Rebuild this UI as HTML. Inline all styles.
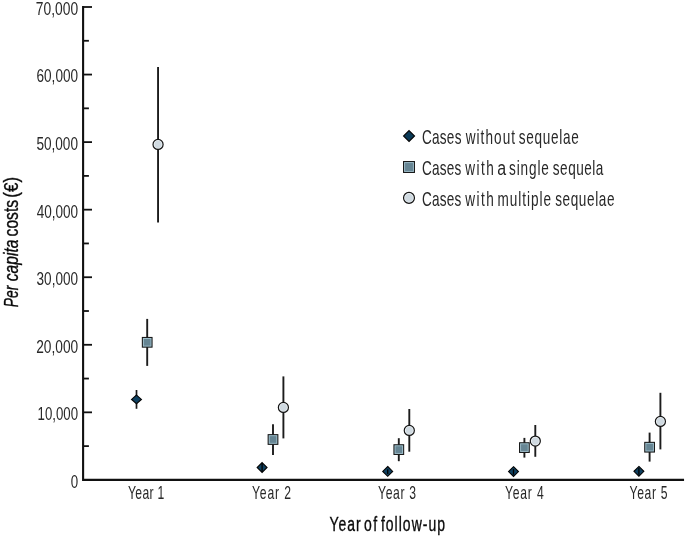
<!DOCTYPE html>
<html><head><meta charset="utf-8"><style>
html,body{margin:0;padding:0;background:#fff;width:685px;height:536px;overflow:hidden}
svg{display:block;will-change:transform;font-family:"Liberation Sans",sans-serif}
</style></head><body>
<svg width="685" height="536" viewBox="0 0 685 536">
<path d="M83.1 7V479.9H683" fill="none" stroke="#111" stroke-width="2.1" stroke-linecap="square"/>
<line x1="83" x2="92" y1="479.90" y2="479.90" stroke="#111" stroke-width="1.8"/>
<line x1="83" x2="88.9" y1="446.12" y2="446.12" stroke="#111" stroke-width="1.8"/>
<line x1="83" x2="92" y1="412.34" y2="412.34" stroke="#111" stroke-width="1.8"/>
<line x1="83" x2="88.9" y1="378.56" y2="378.56" stroke="#111" stroke-width="1.8"/>
<line x1="83" x2="92" y1="344.79" y2="344.79" stroke="#111" stroke-width="1.8"/>
<line x1="83" x2="88.9" y1="311.01" y2="311.01" stroke="#111" stroke-width="1.8"/>
<line x1="83" x2="92" y1="277.23" y2="277.23" stroke="#111" stroke-width="1.8"/>
<line x1="83" x2="88.9" y1="243.45" y2="243.45" stroke="#111" stroke-width="1.8"/>
<line x1="83" x2="92" y1="209.67" y2="209.67" stroke="#111" stroke-width="1.8"/>
<line x1="83" x2="88.9" y1="175.89" y2="175.89" stroke="#111" stroke-width="1.8"/>
<line x1="83" x2="92" y1="142.11" y2="142.11" stroke="#111" stroke-width="1.8"/>
<line x1="83" x2="88.9" y1="108.34" y2="108.34" stroke="#111" stroke-width="1.8"/>
<line x1="83" x2="92" y1="74.56" y2="74.56" stroke="#111" stroke-width="1.8"/>
<line x1="83" x2="88.9" y1="40.78" y2="40.78" stroke="#111" stroke-width="1.8"/>
<line x1="83" x2="92" y1="7.00" y2="7.00" stroke="#111" stroke-width="1.8"/>
<text x="70.73" y="487.8" textLength="7.42" lengthAdjust="spacingAndGlyphs" font-size="17.6" fill="#282828">0</text>
<text x="37.62" y="420.24" textLength="40.46" lengthAdjust="spacingAndGlyphs" font-size="17.6" fill="#282828">10,000</text>
<text x="36.21" y="352.69" textLength="41.92" lengthAdjust="spacingAndGlyphs" font-size="17.6" fill="#282828">20,000</text>
<text x="36.59" y="285.13" textLength="41.40" lengthAdjust="spacingAndGlyphs" font-size="17.6" fill="#282828">30,000</text>
<text x="36.67" y="217.57" textLength="41.41" lengthAdjust="spacingAndGlyphs" font-size="17.6" fill="#282828">40,000</text>
<text x="36.40" y="150.01" textLength="41.55" lengthAdjust="spacingAndGlyphs" font-size="17.6" fill="#282828">50,000</text>
<text x="36.52" y="82.46" textLength="41.53" lengthAdjust="spacingAndGlyphs" font-size="17.6" fill="#282828">60,000</text>
<text x="35.83" y="14.9" textLength="42.25" lengthAdjust="spacingAndGlyphs" font-size="17.6" fill="#282828">70,000</text>
<text transform="translate(128.06,498.6) scale(0.68,1)" x="0" y="0" textLength="53.25" lengthAdjust="spacing" font-size="17.9" fill="#282828">Year 1</text>
<text transform="translate(252.00,498.6) scale(0.68,1)" x="0" y="0" textLength="57.22" lengthAdjust="spacing" font-size="17.9" fill="#282828">Year 2</text>
<text transform="translate(377.97,498.6) scale(0.68,1)" x="0" y="0" textLength="56.12" lengthAdjust="spacing" font-size="17.9" fill="#282828">Year 3</text>
<text transform="translate(504.96,498.6) scale(0.68,1)" x="0" y="0" textLength="56.92" lengthAdjust="spacing" font-size="17.9" fill="#282828">Year 4</text>
<text transform="translate(629.55,498.6) scale(0.68,1)" x="0" y="0" textLength="55.87" lengthAdjust="spacing" font-size="17.9" fill="#282828">Year 5</text>
<text transform="translate(329.46,530.6) scale(0.72,1)" x="0" y="0" textLength="43.48" lengthAdjust="spacing" font-size="19.4" stroke="#0a0a0a" stroke-width="0.35" fill="#0a0a0a">Year</text>
<text transform="translate(364.08,530.6) scale(0.72,1)" x="0" y="0" textLength="18.22" lengthAdjust="spacing" font-size="19.4" stroke="#0a0a0a" stroke-width="0.35" fill="#0a0a0a">of</text>
<text transform="translate(380.92,530.6) scale(0.72,1)" x="0" y="0" textLength="88.98" lengthAdjust="spacing" font-size="19.4" stroke="#0a0a0a" stroke-width="0.35" fill="#0a0a0a">follow-up</text>
<text transform="translate(422.07,144.2) scale(0.7,1)" x="0" y="0" textLength="56.25" lengthAdjust="spacing" font-size="19.4" fill="#282828">Cases</text>
<text transform="translate(465.65,144.2) scale(0.7,1)" x="0" y="0" textLength="70.58" lengthAdjust="spacing" font-size="19.4" fill="#282828">without</text>
<text transform="translate(518.74,144.2) scale(0.7,1)" x="0" y="0" textLength="85.86" lengthAdjust="spacing" font-size="19.4" fill="#282828">sequelae</text>
<text transform="translate(422.09,175.1) scale(0.7,1)" x="0" y="0" textLength="56.17" lengthAdjust="spacing" font-size="19.4" fill="#282828">Cases</text>
<text transform="translate(465.14,175.1) scale(0.7,1)" x="0" y="0" textLength="41.06" lengthAdjust="spacing" font-size="19.4" fill="#282828">with</text>
<text x="497.13" y="175.1" textLength="8.89" lengthAdjust="spacingAndGlyphs" font-size="19.4" fill="#282828">a</text>
<text transform="translate(509.02,175.1) scale(0.7,1)" x="0" y="0" textLength="56.88" lengthAdjust="spacing" font-size="19.4" fill="#282828">single</text>
<text transform="translate(552.87,175.1) scale(0.7,1)" x="0" y="0" textLength="71.97" lengthAdjust="spacing" font-size="19.4" fill="#282828">sequela</text>
<text transform="translate(422.09,205.8) scale(0.7,1)" x="0" y="0" textLength="56.17" lengthAdjust="spacing" font-size="19.4" fill="#282828">Cases</text>
<text transform="translate(465.14,205.8) scale(0.7,1)" x="0" y="0" textLength="41.06" lengthAdjust="spacing" font-size="19.4" fill="#282828">with</text>
<text transform="translate(497.55,205.8) scale(0.7,1)" x="0" y="0" textLength="76.55" lengthAdjust="spacing" font-size="19.4" fill="#282828">multiple</text>
<text transform="translate(555.19,205.8) scale(0.7,1)" x="0" y="0" textLength="84.65" lengthAdjust="spacing" font-size="19.4" fill="#282828">sequelae</text>
<text transform="translate(17.6,307.16) rotate(-90)" x="0" y="0" textLength="21.43" lengthAdjust="spacingAndGlyphs" font-size="19.4" font-style="italic" stroke="#0a0a0a" stroke-width="0.35" fill="#0a0a0a">Per</text>
<text transform="translate(17.6,281.20) rotate(-90)" x="0" y="0" textLength="41.60" lengthAdjust="spacingAndGlyphs" font-size="19.4" font-style="italic" stroke="#0a0a0a" stroke-width="0.35" fill="#0a0a0a">capita</text>
<text transform="translate(17.6,236.38) rotate(-90)" x="0" y="0" textLength="36.42" lengthAdjust="spacingAndGlyphs" font-size="19.4" stroke="#0a0a0a" stroke-width="0.35" fill="#0a0a0a">costs</text>
<text transform="translate(17.6,197.63) rotate(-90)" x="0" y="0" textLength="20.69" lengthAdjust="spacingAndGlyphs" font-size="19.4" stroke="#0a0a0a" stroke-width="0.35" fill="#0a0a0a">(€)</text>
<path d="M409.05 130.55L414.55 136.00L409.05 141.45L403.55 136.00Z" fill="#0b3a57" stroke="#050505" stroke-width="1.1"/>
<rect x="403.55" y="161.55" width="10.90" height="10.90" fill="#9fc0cd" stroke="#161616" stroke-width="1.05"/>
<rect x="405.05" y="163.05" width="7.90" height="7.90" fill="#668593"/>
<circle cx="409.00" cy="197.90" r="5.45" fill="#eef3f6" stroke="#141414" stroke-width="1.2"/>
<circle cx="409.00" cy="197.90" r="3.95" fill="#d0dae1"/>
<line x1="136.5" x2="136.5" y1="390" y2="408.8" stroke="#1c1c1c" stroke-width="1.7"/>
<path d="M136.50 395.10L141.45 399.40L136.50 403.70L131.55 399.40Z" fill="#0e4060" stroke="#050505" stroke-width="1.1"/>
<path d="M262.10 462.60L267.05 467.50L262.10 472.40L257.15 467.50Z" fill="#0e4060" stroke="#050505" stroke-width="1.1"/>
<line x1="262.1" x2="262.1" y1="463.0" y2="472.1" stroke="#000" stroke-width="1.3"/>
<path d="M387.70 466.50L392.65 471.40L387.70 476.30L382.75 471.40Z" fill="#0e4060" stroke="#050505" stroke-width="1.1"/>
<line x1="387.7" x2="387.7" y1="469.2" y2="473.9" stroke="#000" stroke-width="1.3"/>
<path d="M513.50 466.70L518.45 471.60L513.50 476.50L508.55 471.60Z" fill="#0e4060" stroke="#050505" stroke-width="1.1"/>
<line x1="513.5" x2="513.5" y1="469.0" y2="474.7" stroke="#000" stroke-width="1.3"/>
<path d="M638.90 466.45L643.85 471.35L638.90 476.25L633.95 471.35Z" fill="#0e4060" stroke="#050505" stroke-width="1.1"/>
<line x1="638.9" x2="638.9" y1="467.7" y2="474.7" stroke="#000" stroke-width="1.3"/>
<line x1="147.2" x2="147.2" y1="318.9" y2="365.9" stroke="#1c1c1c" stroke-width="1.9"/>
<rect x="142.35" y="337.45" width="9.70" height="9.70" fill="#9fc0cd" stroke="#161616" stroke-width="1.05"/>
<rect x="143.85" y="338.95" width="6.70" height="6.70" fill="#668593"/>
<line x1="273.0" x2="273.0" y1="424.2" y2="455.0" stroke="#1c1c1c" stroke-width="1.9"/>
<rect x="268.15" y="434.65" width="9.70" height="9.70" fill="#9fc0cd" stroke="#161616" stroke-width="1.05"/>
<rect x="269.65" y="436.15" width="6.70" height="6.70" fill="#668593"/>
<line x1="398.8" x2="398.8" y1="438.2" y2="461.2" stroke="#1c1c1c" stroke-width="1.9"/>
<rect x="393.95" y="444.75" width="9.70" height="9.70" fill="#9fc0cd" stroke="#161616" stroke-width="1.05"/>
<rect x="395.45" y="446.25" width="6.70" height="6.70" fill="#668593"/>
<line x1="524.4" x2="524.4" y1="437.9" y2="457.6" stroke="#1c1c1c" stroke-width="1.9"/>
<rect x="519.55" y="442.75" width="9.70" height="9.70" fill="#9fc0cd" stroke="#161616" stroke-width="1.05"/>
<rect x="521.05" y="444.25" width="6.70" height="6.70" fill="#668593"/>
<line x1="649.6" x2="649.6" y1="432.6" y2="461.6" stroke="#1c1c1c" stroke-width="1.9"/>
<rect x="644.75" y="442.35" width="9.70" height="9.70" fill="#9fc0cd" stroke="#161616" stroke-width="1.05"/>
<rect x="646.25" y="443.85" width="6.70" height="6.70" fill="#668593"/>
<line x1="158.05" x2="158.05" y1="66.9" y2="222.5" stroke="#1c1c1c" stroke-width="1.9"/>
<circle cx="158.05" cy="144.40" r="5.05" fill="#eef3f6" stroke="#141414" stroke-width="1.2"/>
<circle cx="158.05" cy="144.40" r="3.55" fill="#d0dae1"/>
<line x1="283.4" x2="283.4" y1="376.4" y2="438.4" stroke="#1c1c1c" stroke-width="1.9"/>
<circle cx="283.40" cy="407.40" r="5.05" fill="#eef3f6" stroke="#141414" stroke-width="1.2"/>
<circle cx="283.40" cy="407.40" r="3.55" fill="#d0dae1"/>
<line x1="409.3" x2="409.3" y1="409.0" y2="451.7" stroke="#1c1c1c" stroke-width="1.9"/>
<circle cx="409.30" cy="430.40" r="5.05" fill="#eef3f6" stroke="#141414" stroke-width="1.2"/>
<circle cx="409.30" cy="430.40" r="3.55" fill="#d0dae1"/>
<line x1="535.3" x2="535.3" y1="425.0" y2="456.8" stroke="#1c1c1c" stroke-width="1.9"/>
<circle cx="535.30" cy="441.10" r="5.05" fill="#eef3f6" stroke="#141414" stroke-width="1.2"/>
<circle cx="535.30" cy="441.10" r="3.55" fill="#d0dae1"/>
<line x1="660.4" x2="660.4" y1="392.8" y2="449.4" stroke="#1c1c1c" stroke-width="1.9"/>
<circle cx="660.40" cy="421.40" r="5.05" fill="#eef3f6" stroke="#141414" stroke-width="1.2"/>
<circle cx="660.40" cy="421.40" r="3.55" fill="#d0dae1"/>
</svg>
</body></html>
